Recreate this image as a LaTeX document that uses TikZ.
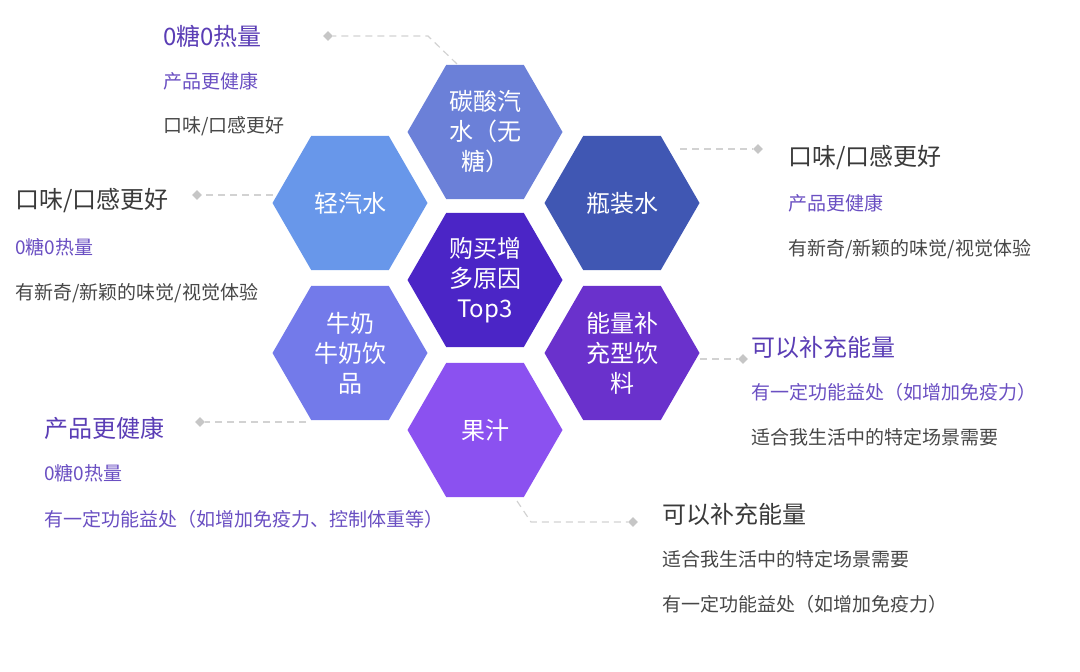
\documentclass[tikz,border=0pt]{standalone}
\usepackage{fontspec}
\setmainfont{Noto Sans CJK SC}
\usetikzlibrary{shapes.geometric}

\definecolor{hexTop}{HTML}{6B80D8}
\definecolor{hexLU}{HTML}{6897EA}
\definecolor{hexRU}{HTML}{4057B3}
\definecolor{hexMid}{HTML}{4B25C6}
\definecolor{hexLD}{HTML}{737AEA}
\definecolor{hexRD}{HTML}{6A31CC}
\definecolor{hexBot}{HTML}{8B51F0}
\definecolor{ink}{HTML}{5A3DB5}
\definecolor{inkL}{HTML}{6A4FC2}
\definecolor{dark}{HTML}{3A3A3A}
\definecolor{grey}{HTML}{474747}
\definecolor{lgray}{HTML}{D2D2D2}

\begin{document}
\begin{tikzpicture}[x=1pt, y=-1pt,
  hexa/.style={regular polygon, regular polygon sides=6, minimum size=155pt,
    inner sep=0pt, text=white, align=center, font=\fontsize{24}{30}\selectfont},
  big/.style={anchor=west, inner sep=0pt, font=\fontsize{24}{28}\selectfont},
  note/.style={anchor=west, inner sep=0pt, font=\fontsize{19}{22}\selectfont},
  gem/.style={diamond, fill=lgray!85!gray, inner sep=0pt, minimum size=10pt},
  leader/.style={draw=lgray, line width=1.2pt, dash pattern=on 7pt off 5pt}]

\useasboundingbox (0,0) rectangle (1080,672);

% the honeycomb
\node[hexa, fill=hexTop] (top) at (485,132) {碳酸汽\\水（无\\糖）};
\node[hexa, fill=hexLU] (lu) at (350,203) {轻汽水};
\node[hexa, fill=hexRU] (ru) at (622,203) {瓶装水};
\node[hexa, fill=hexMid] (mid) at (485,280) {购买增\\多原因\\Top3};
\node[hexa, fill=hexLD] (ld) at (350,353) {牛奶\\牛奶饮\\品};
\node[hexa, fill=hexRD] (rd) at (622,353) {能量补\\充型饮\\料};
\node[hexa, fill=hexBot] (bot) at (485,430) {果汁};

% markers and bends of the leaders
\node[gem] (g1) at (328,36) {};
\node[gem] (g2) at (197,195) {};
\node[gem] (g3) at (758,149) {};
\node[gem] (g4) at (743,359) {};
\node[gem] (g5) at (200,422) {};
\node[gem] (g6) at (633,522) {};

\coordinate (c1a) at (457,64);
\coordinate (c1b) at (428,36);
\coordinate (c2) at (273,195);
\coordinate (c3) at (680,149);
\coordinate (c4) at (700,359);
\coordinate (c5) at (306,422);
\coordinate (c6a) at (517,501);
\coordinate (c6b) at (531,522);

\draw[leader] (c1a) -- (c1b) -- (g1);
\draw[leader] (c2) -- (g2);
\draw[leader] (c3) -- (g3);
\draw[leader] (c4) -- (g4);
\draw[leader] (c5) -- (g5);
\draw[leader] (c6a) -- (c6b) -- (g6);

% top left
\node[big, text=ink] (a1) at (163,36) {0糖0热量};
\node[note, text=inkL] (a2) at (163,81) {产品更健康};
\node[note, text=grey] (a3) at (163,126) {口味/口感更好};

% left
\node[big, text=dark] (b1) at (15,201) {口味/口感更好};
\node[note, text=inkL] (b2) at (15,247) {0糖0热量};
\node[note, text=grey] (b3) at (15,293) {有新奇/新颖的味觉/视觉体验};

% right top
\node[big, text=dark] (r1) at (788,158) {口味/口感更好};
\node[note, text=inkL] (r2) at (788,203) {产品更健康};
\node[note, text=grey] (r3) at (788,249) {有新奇/新颖的味觉/视觉体验};

% right
\node[big, text=ink] (s1) at (751,347) {可以补充能量};
\node[note, text=inkL] (s2) at (751,392) {有一定功能益处（如增加免疫力）};
\node[note, text=grey] (s3) at (751,437) {适合我生活中的特定场景需要};

% bottom left
\node[big, text=ink] (e1) at (44,428) {产品更健康};
\node[note, text=inkL] (e2) at (44,473) {0糖0热量};
\node[note, text=inkL] (e3) at (44,519) {有一定功能益处（如增加免疫力、控制体重等）};

% bottom right
\node[big, text=dark] (f1) at (662,514) {可以补充能量};
\node[note, text=grey] (f2) at (662,559) {适合我生活中的特定场景需要};
\node[note, text=grey] (f3) at (662,604) {有一定功能益处（如增加免疫力）};

\end{tikzpicture}
\end{document}
